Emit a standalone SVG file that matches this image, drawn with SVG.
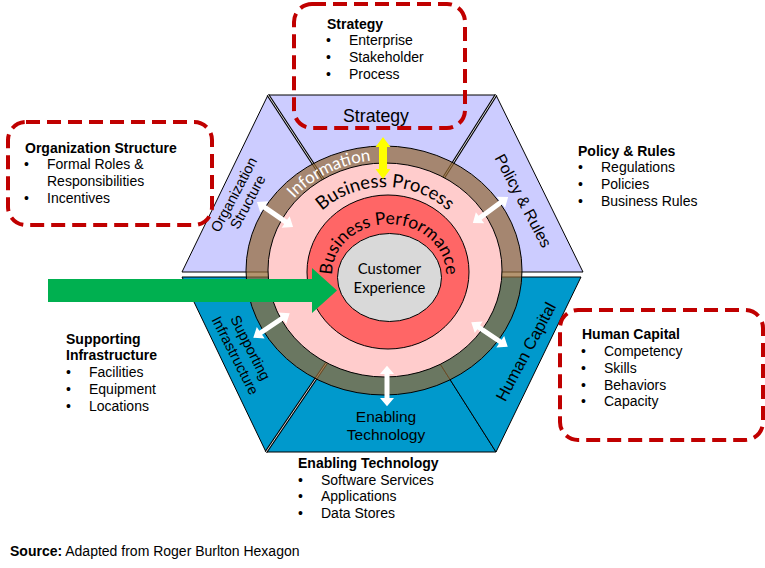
<svg xmlns="http://www.w3.org/2000/svg" width="765" height="568" viewBox="0 0 765 568">
<style>
.lbl{font-family:"Liberation Sans",Arial,sans-serif;font-size:14px;fill:#000}
.b{font-weight:bold}
.sec{stroke:#000;stroke-width:1}
.lav{fill:#CCCCFF}
.blu{fill:#0099CC}
.hx{font-family:"Liberation Sans",Arial,sans-serif;fill:#000;text-anchor:middle}
.cal{font-family:Lato,"Open Sans",sans-serif}
.dash{fill:none;stroke:#C00000;stroke-width:4;stroke-dasharray:14 7}
.dbl{fill:#fff}
.dv1{stroke:#000;stroke-width:3}
.dv2{stroke:#d8d8d8;stroke-width:1}
.ring{stroke:#000;stroke-width:1}
</style>
<defs>
<path id="dbl" d="M -22 0 L -13 -7 L -13 -2.5 L 13 -2.5 L 13 -7 L 22 0 L 13 7 L 13 2.5 L -13 2.5 L -13 7 Z"/>
<path id="arcInfo" d="M 265 270 A 120 110 0 0 1 505 270"/>
<path id="arcProc" d="M 295 270 A 90 83 0 0 1 475 270"/>
<path id="arcPerf" d="M 333.9 286.9 A 57 50 0 1 1 444.1 286.9"/>
</defs>
<rect width="765" height="568" fill="#fff"/>

<g id="hex-strategy">
<polygon class="sec lav" points="268,95 496,95 384,272"/>
<text class="hx" x="376" y="122" font-size="17.7">Strategy</text>
</g>
<g id="hex-org">
<polygon class="sec lav" points="268,95 182,272 384,272"/>
<g transform="translate(240.8,198.3) rotate(-62)">
<text class="hx" font-size="14.5" y="-2.8">Organization</text>
<text class="hx" font-size="14.5" y="12.8">Structure</text>
</g>
</g>
<g id="hex-policy">
<polygon class="sec lav" points="496,95 583,272 384,272"/>
<text class="hx" font-size="16" transform="translate(523.3,200.7) rotate(62)" y="5.6">Policy &amp; Rules</text>
</g>
<g id="hex-infra">
<polygon class="sec blu" points="182,277 266,452 385,277"/>
<g transform="translate(242.9,351.6) rotate(63)">
<text class="hx" font-size="14.6" y="-3.4">Supporting</text>
<text class="hx" font-size="14.6" y="13.6">Infrastructure</text>
</g>
</g>
<g id="hex-tech">
<polygon class="sec blu" points="266,452 496,452 385,277"/>
<text class="hx" x="386" y="422" font-size="15.5">Enabling</text>
<text class="hx" x="386" y="440" font-size="15.5">Technology</text>
</g>
<g id="hex-human">
<polygon class="sec blu" points="496,452 581,277 385,277"/>
<text class="hx" font-size="16.5" transform="translate(525.7,351.7) rotate(-62)" y="5.8">Human Capital</text>
</g>
<g id="hex-dividers">
<line class="dv1" x1="268" y1="95" x2="384" y2="272"/>
<line class="dv2" x1="268" y1="95" x2="384" y2="272"/>
<line class="dv1" x1="496" y1="95" x2="384" y2="272"/>
<line class="dv2" x1="496" y1="95" x2="384" y2="272"/>
<line class="dv1" x1="266" y1="452" x2="385" y2="277"/>
<line class="dv2" x1="266" y1="452" x2="385" y2="277"/>
</g>

<g id="ring-information">
<ellipse class="ring" cx="384" cy="270.5" rx="138" ry="124.5" fill="#966A35" fill-opacity="0.71"/>
</g>
<g id="ring-process">
<ellipse class="ring" cx="385" cy="270" rx="117" ry="107" fill="#FFCCCC"/>
</g>
<g id="ring-performance">
<ellipse class="ring" cx="388" cy="272" rx="81" ry="77" fill="#FF6666"/>
</g>
<g id="ring-customer">
<ellipse class="ring" cx="389.5" cy="277.5" rx="52" ry="44" fill="#D9D9D9"/>
<text class="cal" x="389.5" y="274" font-size="14.8" text-anchor="middle">Customer</text>
<text class="cal" x="389.5" y="293" font-size="14.8" text-anchor="middle">Experience</text>
</g>
<g id="ring-labels">
<text class="cal" font-size="17" fill="#fff"><textPath href="#arcInfo" startOffset="34%" text-anchor="middle">Information</textPath></text>
<text class="cal" font-size="18.5" fill="#000"><textPath href="#arcProc" startOffset="50%" text-anchor="middle">Business Process</textPath></text>
<text class="cal" font-size="17.5" fill="#000"><textPath href="#arcPerf" startOffset="50%" text-anchor="middle">Business Performance</textPath></text>
</g>

<g id="connectors">
<polygon fill="#00B050" points="48,279 312,279 312,268 337,290.5 312,313 312,302 48,302"/>
<path fill="#FFFF00" d="M383 137 L390.5 147 L387 147 L387 169 L390.5 169 L383 179 L375.5 169 L379 169 L379 147 L375.5 147 Z"/>
<use href="#dbl" class="dbl" transform="translate(275,214.5) rotate(34.8)"/>
<use href="#dbl" class="dbl" transform="translate(490.5,210) rotate(-36.6)"/>
<use href="#dbl" class="dbl" transform="translate(271.5,325.5) rotate(-34)"/>
<use href="#dbl" class="dbl" transform="translate(489.5,334.5) rotate(34)"/>
<use href="#dbl" class="dbl" transform="translate(387,386) rotate(90) scale(0.92,1)"/>
</g>

<g id="strategy-box">
<rect class="dash" x="294" y="4" width="171" height="124" rx="18"/>
<text class="lbl b" x="327" y="29">Strategy</text>
<text class="lbl" x="326" y="45">•</text><text class="lbl" x="349" y="45">Enterprise</text>
<text class="lbl" x="326" y="62">•</text><text class="lbl" x="349" y="62">Stakeholder</text>
<text class="lbl" x="326" y="79">•</text><text class="lbl" x="349" y="79">Process</text>
</g>
<g id="org-box">
<rect class="dash" x="8" y="122" width="204" height="103" rx="18"/>
<text class="lbl b" x="25" y="153">Organization Structure</text>
<text class="lbl" x="24" y="169">•</text><text class="lbl" x="47" y="169">Formal Roles &amp;</text>
<text class="lbl" x="47" y="186">Responsibilities</text>
<text class="lbl" x="24" y="203">•</text><text class="lbl" x="47" y="203">Incentives</text>
</g>
<g id="policy-text">
<text class="lbl b" x="578" y="156">Policy &amp; Rules</text>
<text class="lbl" x="578" y="172">•</text><text class="lbl" x="601" y="172">Regulations</text>
<text class="lbl" x="578" y="189">•</text><text class="lbl" x="601" y="189">Policies</text>
<text class="lbl" x="578" y="206">•</text><text class="lbl" x="601" y="206">Business Rules</text>
</g>
<g id="human-box">
<rect class="dash" x="560" y="310" width="203" height="130" rx="18"/>
<text class="lbl b" x="582" y="339">Human Capital</text>
<text class="lbl" x="581" y="356">•</text><text class="lbl" x="604" y="356">Competency</text>
<text class="lbl" x="581" y="373">•</text><text class="lbl" x="604" y="373">Skills</text>
<text class="lbl" x="581" y="389.5">•</text><text class="lbl" x="604" y="389.5">Behaviors</text>
<text class="lbl" x="581" y="406">•</text><text class="lbl" x="604" y="406">Capacity</text>
</g>
<g id="infra-text">
<text class="lbl b" x="66" y="344">Supporting</text>
<text class="lbl b" x="66" y="360">Infrastructure</text>
<text class="lbl" x="66" y="377">•</text><text class="lbl" x="89" y="377">Facilities</text>
<text class="lbl" x="66" y="394">•</text><text class="lbl" x="89" y="394">Equipment</text>
<text class="lbl" x="66" y="411">•</text><text class="lbl" x="89" y="411">Locations</text>
</g>
<g id="tech-text">
<text class="lbl b" x="298" y="468">Enabling Technology</text>
<text class="lbl" x="298" y="484.5">•</text><text class="lbl" x="321" y="484.5">Software Services</text>
<text class="lbl" x="298" y="501">•</text><text class="lbl" x="321" y="501">Applications</text>
<text class="lbl" x="298" y="518">•</text><text class="lbl" x="321" y="518">Data Stores</text>
</g>
<g id="source">
<text class="lbl" x="10" y="556"><tspan class="b">Source:</tspan> Adapted from Roger Burlton Hexagon</text>
</g>
</svg>
